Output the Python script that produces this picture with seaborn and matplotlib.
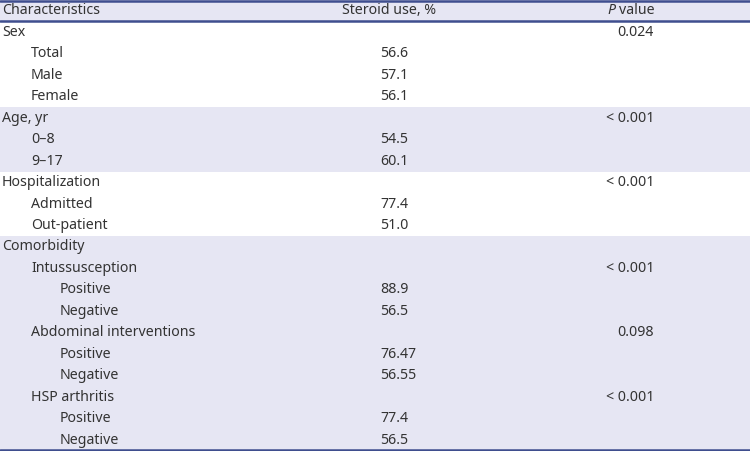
import matplotlib
matplotlib.use("Agg")
import matplotlib.pyplot as plt
import seaborn as sns
import pandas as pd

headers = ["Characteristics", "Steroid use, %", "P value"]

labels = ["Sex", "Total", "Male", "Female",
          "Age, yr", "0\u20138", "9\u201317",
          "Hospitalization", "Admitted", "Out-patient",
          "Comorbidity", "Intussusception", "Positive", "Negative",
          "Abdominal interventions", "Positive", "Negative",
          "HSP arthritis", "Positive", "Negative"]
levels = [0, 1, 1, 1,
          0, 1, 1,
          0, 1, 1,
          0, 1, 2, 2,
          1, 2, 2,
          1, 2, 2]
steroid = ["", "56.6", "57.1", "56.1",
           "", "54.5", "60.1",
           "", "77.4", "51.0",
           "", "", "88.9", "56.5",
           "", "76.47", "56.55",
           "", "77.4", "56.5"]
pvalues = ["0.024", "", "", "",
           "< 0.001", "", "",
           "< 0.001", "", "",
           "", "< 0.001", "", "",
           "0.098", "", "",
           "< 0.001", "", ""]
groups = ["Sex"] * 4 + ["Age"] * 3 + ["Hosp"] * 3 + ["Comorb"] * 10
shaded_groups = ["Age", "Comorb"]

df = pd.DataFrame({"label": labels, "level": levels, "steroid": steroid,
                   "p": pvalues, "group": groups})

sns.set_theme(style="white")
plt.rcParams["font.family"] = ["Noto Sans", "DejaVu Sans"]

band = "#e6e6f3"
rule = "#3f4e8e"
ink = "#333333"

fig, ax = plt.subplots(figsize=(7.5, 4.51), dpi=100)
fig.subplots_adjust(left=0, right=1, top=1, bottom=0)
n = len(df) + 1
ax.set_xlim(0, 750)
ax.set_ylim(n, 0)
ax.axis("off")

# header band and group bands
ax.axhspan(0, 1, color=band, lw=0)
for i, row in df.iterrows():
    if row["group"] in shaded_groups:
        ax.axhspan(i + 1, i + 2, color=band, lw=0)

fs = 10.2
ax.text(2, 0.5, headers[0], ha="left", va="center", fontsize=fs, color=ink)
ax.text(389, 0.5, headers[1], ha="center", va="center", fontsize=fs, color=ink)
p_word, rest = headers[2].split(" ", 1)
ax.text(607, 0.5, p_word, ha="left", va="center", fontsize=fs, color=ink, style="italic")
ax.text(655, 0.5, rest, ha="right", va="center", fontsize=fs, color=ink)

for i, row in df.iterrows():
    y = i + 1.5
    ax.text(2 + 29 * row["level"], y, row["label"], ha="left", va="center",
            fontsize=fs, color=ink)
    if row["steroid"]:
        ax.text(380, y, row["steroid"], ha="left", va="center", fontsize=fs, color=ink)
    if row["p"]:
        ax.text(654, y, row["p"], ha="right", va="center", fontsize=fs, color=ink)

ax.axhline(0.03, color=rule, lw=1.8)
ax.axhline(1, color=rule, lw=1.8)
ax.axhline(n - 0.04, color=rule, lw=1.8)

fig.savefig("out.png", dpi=100)
